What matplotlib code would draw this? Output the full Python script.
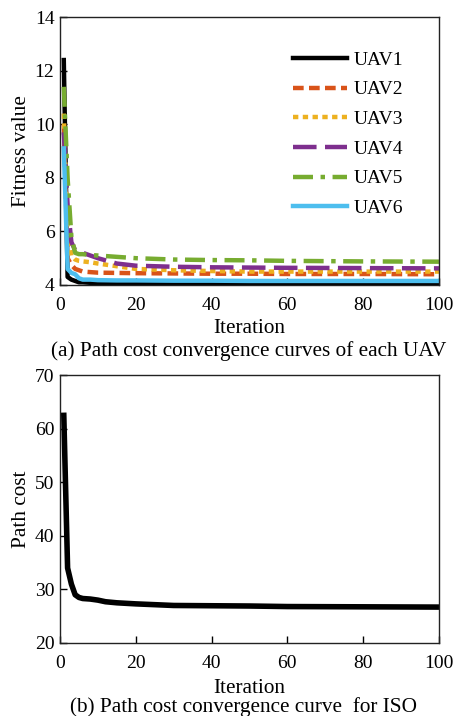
import matplotlib
matplotlib.use("Agg")
import matplotlib.pyplot as plt

plt.rcParams['font.family'] = ['Liberation Serif', 'DejaVu Serif']
plt.rcParams['font.size'] = 14

# (a) fitness value of each UAV, read at selected iterations
it_a = [1, 2, 3, 4, 5, 6, 8, 10, 15, 20, 30, 40, 50, 60, 80, 100]
uav1 = [12.4, 4.3, 4.2, 4.15, 4.1, 4.1, 4.08, 4.06, 4.05, 4.05, 4.04, 4.04, 4.03, 4.03, 4.02, 4.02]
uav2 = [10.0, 5.0, 4.75, 4.6, 4.55, 4.5, 4.48, 4.46, 4.45, 4.44, 4.43, 4.42, 4.42, 4.41, 4.41, 4.4]
uav3 = [10.4, 6.0, 5.1, 4.95, 4.9, 4.88, 4.85, 4.8, 4.7, 4.6, 4.55, 4.52, 4.5, 4.5, 4.5, 4.5]
uav4 = [9.7, 7.0, 5.6, 5.3, 5.25, 5.2, 5.1, 5.0, 4.8, 4.72, 4.68, 4.66, 4.65, 4.64, 4.63, 4.62]
uav5 = [11.4, 8.0, 5.8, 5.2, 5.15, 5.15, 5.12, 5.1, 5.05, 5.0, 4.95, 4.93, 4.92, 4.9, 4.88, 4.87]
uav6 = [9.1, 4.6, 4.45, 4.4, 4.25, 4.2, 4.2, 4.18, 4.17, 4.17, 4.16, 4.16, 4.15, 4.15, 4.15, 4.15]
labels = ["UAV1", "UAV2", "UAV3", "UAV4", "UAV5", "UAV6"]

# (b) path cost of ISO
it_b = [1, 2, 3, 4, 5, 6, 8, 10, 12, 15, 20, 30, 40, 50, 60, 80, 100]
cost = [62.5, 34.0, 31.0, 29.0, 28.5, 28.3, 28.2, 28.0, 27.7, 27.5, 27.3, 27.0, 26.95, 26.9, 26.8, 26.75, 26.7]

colors = ["#000000", "#D95319", "#EDB120", "#7E2F8E", "#77AC30", "#4DBEEE"]
styles = ["-", (0, (2.4, 1.2)), (0, (1.2, 1.0)), (0, (5.3, 1.9)), (0, (4.5, 1.7, 1.0, 1.7)), "-"]

fig = plt.figure(figsize=(4.56, 7.16), dpi=100)
ax1 = fig.add_axes([0.1316, 0.602, 0.831, 0.374])
ax2 = fig.add_axes([0.1316, 0.102, 0.831, 0.374])

series = [uav1, uav2, uav3, uav4, uav5, uav6]
for ys, c, ls, lab in zip(series, colors, styles, labels):
    ax1.plot(it_a, ys, color=c, linestyle=ls, linewidth=3.2, label=lab)

lab_fs = 15.3
ax1.set_xlim(0, 100)
ax1.set_ylim(4, 14)
ax1.set_yticks(range(4, 15, 2))
ax1.set_xticks(range(0, 101, 20))
ax1.set_xlabel("Iteration", labelpad=3, fontsize=lab_fs)
ax1.set_ylabel("Fitness value", labelpad=3, fontsize=lab_fs)
ax1.legend(loc='upper left', bbox_to_anchor=(0.615, 0.873), frameon=False,
           borderpad=0, borderaxespad=0, handlelength=2.8, handletextpad=0.3,
           labelspacing=0.62)

ax2.plot(it_b, cost, color="black", linewidth=4)
ax2.set_xlim(0, 100)
ax2.set_ylim(20, 70)
ax2.set_yticks(range(20, 71, 10))
ax2.set_xticks(range(0, 101, 20))
ax2.set_xlabel("Iteration", labelpad=5, fontsize=lab_fs)
ax2.set_ylabel("Path cost", labelpad=3, fontsize=lab_fs)

for ax in (ax1, ax2):
    ax.tick_params(direction='in', length=5, width=1, pad=4, top=False, right=False)
    ax.tick_params(axis='x', pad=9)
    for sp in ax.spines.values():
        sp.set_linewidth(1.0)
        sp.set_color("#222222")

fig.text(249 / 456, 1 - 351 / 716, "(a) Path cost convergence curves of each UAV",
         ha='center', va='center', fontsize=lab_fs)
fig.text(244 / 456, 1 - 707 / 716, "(b) Path cost convergence curve  for ISO",
         ha='center', va='center', fontsize=lab_fs)

fig.savefig("out.png", dpi=100)
